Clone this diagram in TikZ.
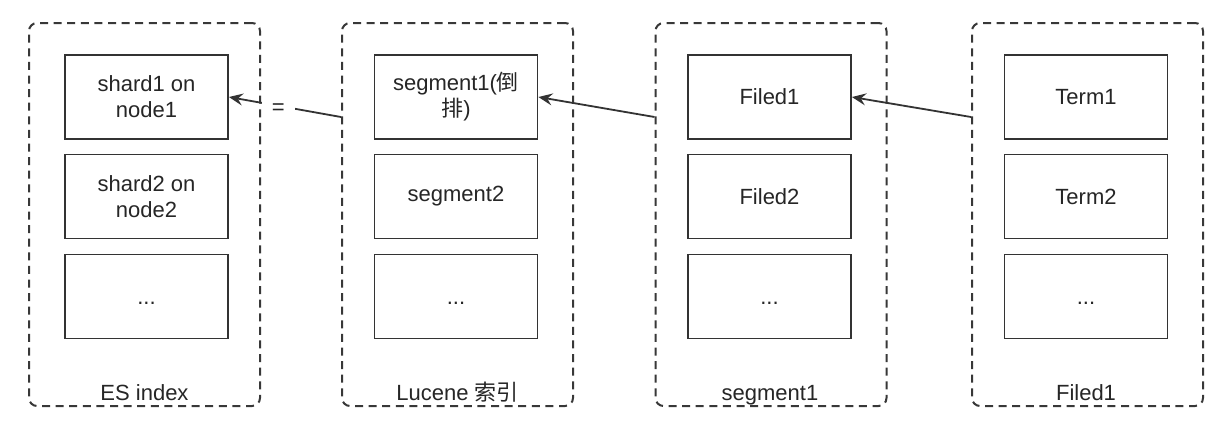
\documentclass[tikz,border=0pt]{standalone}
\usepackage{fontspec}
\setmainfont{Liberation Sans}
\newfontfamily\cjk{Noto Sans CJK SC}
\usetikzlibrary{arrows.meta,calc}
\begin{document}
\begin{tikzpicture}[x=0.5pt,y=-0.5pt,
  container/.style={draw=black!78, line width=1pt, dash pattern=on 4pt off 2.8pt,
    rounded corners=4pt, minimum width=115.5pt, minimum height=191.5pt, inner sep=0pt},
  item/.style={draw=black!80, line width=0.9pt, minimum width=81.5pt, minimum height=42pt,
    align=center, font=\fontsize{11}{13}\selectfont, text=black!85, inner sep=0pt},
  ctitle/.style={font=\fontsize{11}{13}\selectfont, text=black!85, anchor=base},
  link/.style={draw=black!80, line width=0.9pt, -{Stealth[length=7pt,width=6pt,inset=2.5pt]}},
  eqlabel/.style={fill=white, inner xsep=5pt, inner ysep=1pt, font=\fontsize{11}{13}\selectfont, text=black!85}]
\useasboundingbox (0,0) rectangle (1224,430);
\fill[white] (0,0) rectangle (1224,430);

% containers
\node[container] (es)  at (144.5,214.5) {};
\node[container] (luc) at (457.5,214.5) {};
\node[container] (seg) at (771,214.5) {};
\node[container] (fil) at (1087.5,214.5) {};

% ES index column
\node[item] (es1) at (146.5,97)    {shard1 on\\node1};
\node[item] (es2) at (146.5,196.5) {shard2 on\\node2};
\node[item] (es3) at (146.5,296.5) {\vphantom{T}...};
\node[ctitle] (esl) at (144.5,400) {ES index};

% Lucene column
\node[item] (luc1) at (456,97)    {segment1({\cjk 倒}\\{\cjk 排})};
\node[item] (luc2) at (456,196.5) {segment2};
\node[item] (luc3) at (456,296.5) {\vphantom{T}...};
\node[ctitle] (lucl) at (457.5,400) {Lucene {\cjk 索引}};

% segment1 column
\node[item] (seg1) at (769.5,97)    {Filed1};
\node[item] (seg2) at (769.5,196.5) {Filed2};
\node[item] (seg3) at (769.5,296.5) {\vphantom{T}...};
\node[ctitle] (segl) at (770,400) {segment1};

% Filed1 column
\node[item] (fil1) at (1086,97)    {Term1};
\node[item] (fil2) at (1086,196.5) {Term2};
\node[item] (fil3) at (1086,296.5) {\vphantom{T}...};
\node[ctitle] (fill) at (1086,400) {Filed1};

% connectors
\draw[link] ([yshift=48.75pt]luc.west) -- node[eqlabel, pos=0.56, yshift=-1.5pt] (eq) {=} (es1.east);
\draw[link] ([yshift=48.75pt]seg.west) -- (luc1.east);
\draw[link] ([yshift=48.75pt]fil.west) -- (seg1.east);
\end{tikzpicture}
\end{document}
